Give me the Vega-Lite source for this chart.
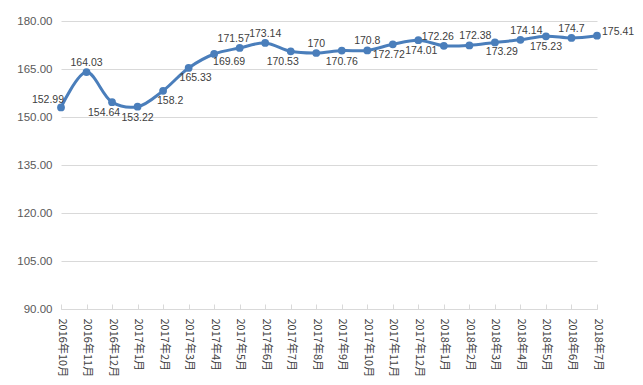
{
  "$schema": "https://vega.github.io/schema/vega-lite/v6.json",
  "width": 536,
  "height": 288,
  "autosize": {"type": "none"},
  "padding": {"left": 61, "top": 21, "right": 46, "bottom": 76},
  "background": "#ffffff",
  "config": {"view": {"stroke": null}, "text": {"font": "Liberation Sans", "fontSize": 10.5, "color": "#404040", "baseline": "middle"}},
  "data": {
    "values": [
      {"month": "2016年10月", "value": 152.99},
      {"month": "2016年11月", "value": 164.03},
      {"month": "2016年12月", "value": 154.64},
      {"month": "2017年1月", "value": 153.22},
      {"month": "2017年2月", "value": 158.2},
      {"month": "2017年3月", "value": 165.33},
      {"month": "2017年4月", "value": 169.69},
      {"month": "2017年5月", "value": 171.57},
      {"month": "2017年6月", "value": 173.14},
      {"month": "2017年7月", "value": 170.53},
      {"month": "2017年8月", "value": 170},
      {"month": "2017年9月", "value": 170.76},
      {"month": "2017年10月", "value": 170.8},
      {"month": "2017年11月", "value": 172.72},
      {"month": "2017年12月", "value": 174.01},
      {"month": "2018年1月", "value": 172.26},
      {"month": "2018年2月", "value": 172.38},
      {"month": "2018年3月", "value": 173.29},
      {"month": "2018年4月", "value": 174.14},
      {"month": "2018年5月", "value": 175.23},
      {"month": "2018年6月", "value": 174.7},
      {"month": "2018年7月", "value": 175.41}
    ]
  },
  "encoding": {
    "x": {
      "field": "month", "type": "ordinal", "sort": null,
      "scale": {"type": "point", "padding": 0},
      "axis": {
        "title": null, "labelAngle": 90, "labelAlign": "left", "labelBaseline": "middle",
        "labelFont": "Noto Sans CJK SC", "labelFontSize": 11, "labelColor": "#404040",
        "domainColor": "#d9d9d9", "tickColor": "#d9d9d9", "tickSize": -5, "labelPadding": 14,
        "grid": false
      }
    },
    "y": {
      "field": "value", "type": "quantitative",
      "scale": {"domain": [90, 180], "nice": false, "zero": false},
      "axis": {
        "title": null, "values": [90, 105, 120, 135, 150, 165, 180], "format": ".2f",
        "labelFont": "Liberation Sans", "labelFontSize": 11.5, "labelColor": "#595959",
        "domain": false, "ticks": false, "labelPadding": 9, "gridColor": "#d9d9d9"
      }
    }
  },
  "layer": [
    {"mark": {"type": "line", "interpolate": "catmull-rom", "color": "#4a7ebb", "strokeWidth": 3}},
    {"mark": {"type": "point", "filled": true, "opacity": 1, "color": "#4a7ebb", "size": 60}},
    {
      "transform": [{"filter": {"field": "month", "oneOf": ["2016年11月", "2017年6月", "2017年8月", "2017年10月", "2018年6月"]}}],
      "mark": {"type": "text", "dy": -9},
      "encoding": {"text": {"field": "value", "type": "quantitative", "format": ".5~r"}}
    },
    {
      "transform": [{"filter": {"field": "month", "oneOf": ["2017年5月", "2018年1月"]}}],
      "mark": {"type": "text", "dy": -9, "dx": -6},
      "encoding": {"text": {"field": "value", "type": "quantitative", "format": ".5~r"}}
    },
    {
      "transform": [{"filter": {"field": "month", "oneOf": ["2018年2月", "2018年4月"]}}],
      "mark": {"type": "text", "dy": -9, "dx": 6},
      "encoding": {"text": {"field": "value", "type": "quantitative", "format": ".5~r"}}
    },
    {
      "transform": [{"filter": {"field": "month", "oneOf": ["2017年1月", "2017年9月", "2018年5月"]}}],
      "mark": {"type": "text", "dy": 11},
      "encoding": {"text": {"field": "value", "type": "quantitative", "format": ".5~r"}}
    },
    {
      "transform": [{"filter": {"field": "month", "oneOf": ["2017年11月"]}}],
      "mark": {"type": "text", "dy": 11, "dx": -4},
      "encoding": {"text": {"field": "value", "type": "quantitative", "format": ".5~r"}}
    },
    {
      "transform": [{"filter": {"field": "month", "oneOf": ["2017年12月"]}}],
      "mark": {"type": "text", "dy": 11, "dx": 3},
      "encoding": {"text": {"field": "value", "type": "quantitative", "format": ".5~r"}}
    },
    {
      "transform": [{"filter": {"field": "month", "oneOf": ["2016年12月", "2017年7月"]}}],
      "mark": {"type": "text", "dy": 11, "dx": -8},
      "encoding": {"text": {"field": "value", "type": "quantitative", "format": ".5~r"}}
    },
    {
      "transform": [{"filter": {"field": "month", "oneOf": ["2017年2月", "2017年3月", "2018年3月"]}}],
      "mark": {"type": "text", "dy": 10, "dx": 7},
      "encoding": {"text": {"field": "value", "type": "quantitative", "format": ".5~r"}}
    },
    {
      "transform": [{"filter": {"field": "month", "oneOf": ["2017年4月"]}}],
      "mark": {"type": "text", "dy": 8, "dx": 15},
      "encoding": {"text": {"field": "value", "type": "quantitative", "format": ".5~r"}}
    },
    {
      "transform": [{"filter": {"field": "month", "oneOf": ["2016年10月"]}}],
      "mark": {"type": "text", "align": "right", "dy": -7, "dx": 3},
      "encoding": {"text": {"field": "value", "type": "quantitative", "format": ".5~r"}}
    },
    {
      "transform": [{"filter": {"field": "month", "oneOf": ["2018年7月"]}}],
      "mark": {"type": "text", "align": "left", "dy": -4, "dx": 5},
      "encoding": {"text": {"field": "value", "type": "quantitative", "format": ".5~r"}}
    }
  ]
}
